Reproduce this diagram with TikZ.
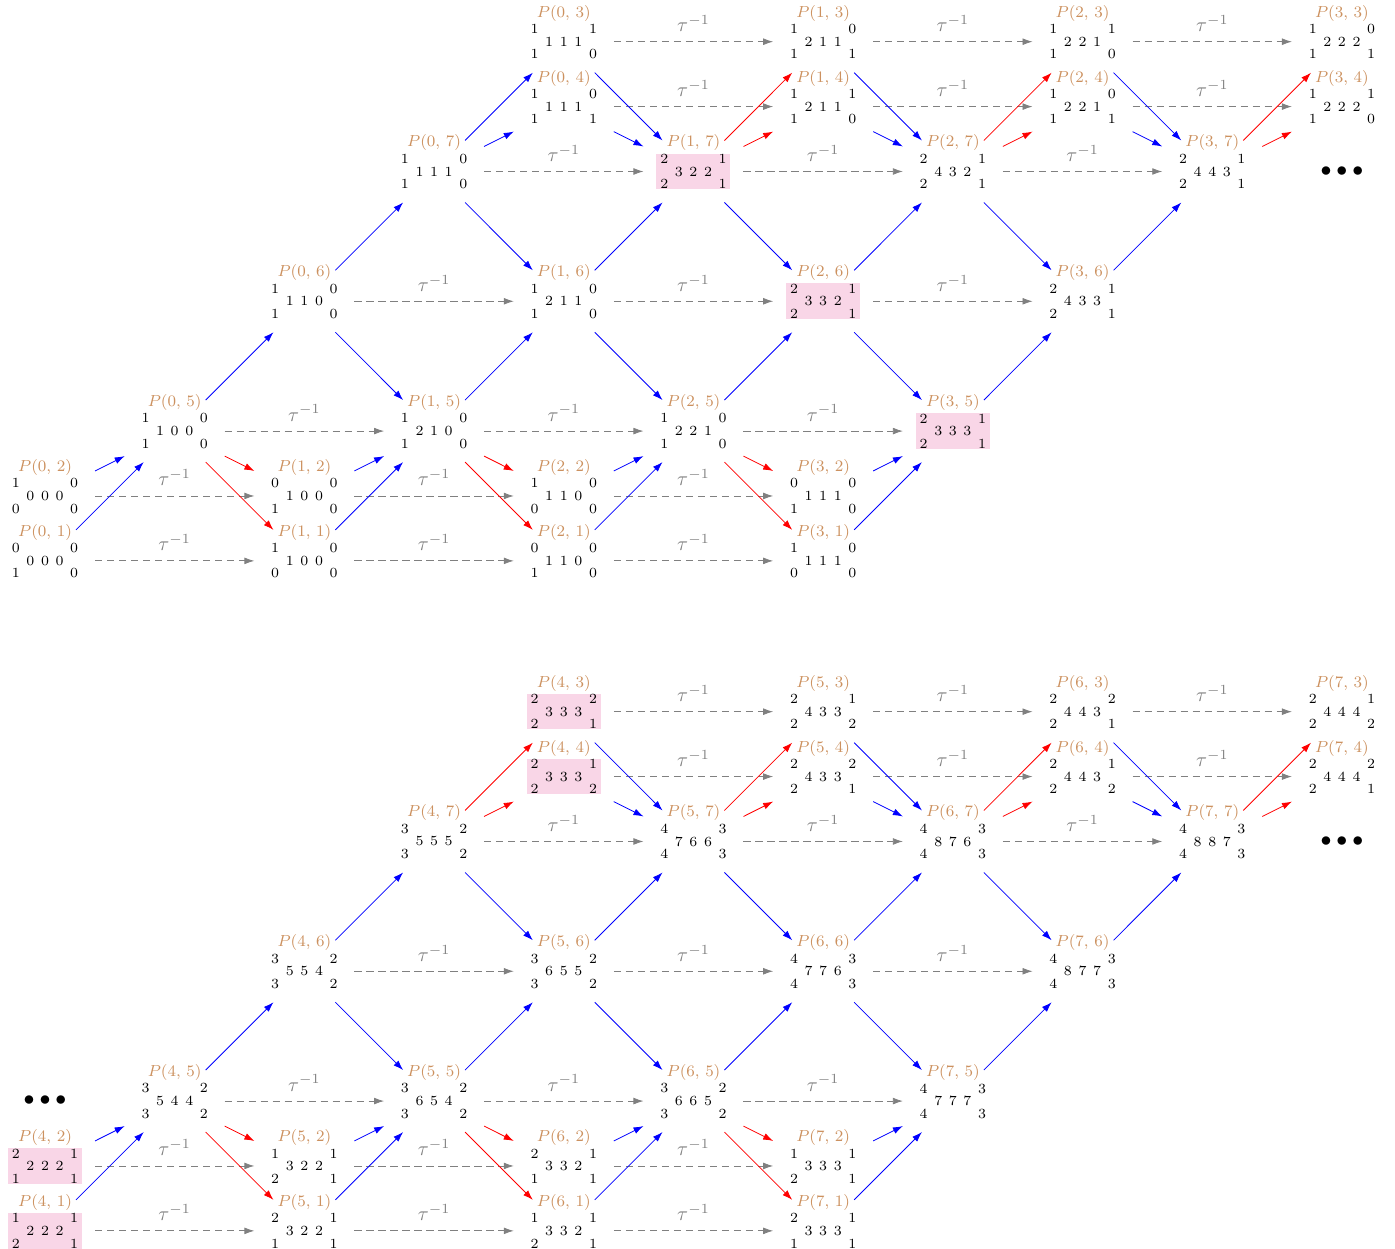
\documentclass[tikz,border=0pt]{standalone}
\usepackage{amsmath}
\usetikzlibrary{arrows.meta}
\definecolor{labelorange}{RGB}{204,145,95}
\definecolor{hlpink}{RGB}{249,214,231}

\newcommand\dg[1]{\hbox to 0pt{\hss#1\hss}}
\newcommand\middigs[3]{\dg{#1}\hskip7.3pt\dg{#2}\hskip7.3pt\dg{#3}}
\newcommand\digs[5]{\vbox{\baselineskip=6.3pt\lineskiplimit=-100pt
  \hbox to 29.2pt{\dg{#1}\hfil\dg{#2}}
  \hbox to 29.2pt{\hskip7.3pt\middigs#3\hfil}
  \hbox to 29.2pt{\dg{#4}\hfil\dg{#5}}}}
% #1 style, #2 i, #3 k, #4 position, #5 top left, #6 top right, #7 middle, #8 bottom left, #9 bottom right
\newcommand\pcell[9][]{%
  \node[dimbox,#1] (v#2#3) at (#4) {\digs{#5}{#6}{#7}{#8}{#9}};
  \node[cellbox, label={[plabel]north:$P(#2,\,#3)$}] (p#2#3) at (#4) {};
}

\tikzset{
  cellbox/.style={minimum width=50pt, minimum height=31pt, inner sep=0pt, outer sep=0pt},
  dimbox/.style={font=\scriptsize, inner sep=0pt, minimum width=37pt, minimum height=17.8pt},
  hlbox/.style={fill=hlpink},
  plabel/.style={font=\footnotesize, text=labelorange, inner sep=0pt, anchor=center, yshift=-1.25pt},
  bluemap/.style={blue, -{Latex[length=5pt, width=3.4pt]}},
  redmap/.style={red, -{Latex[length=5pt, width=3.4pt]}},
  taumap/.style={gray, dash pattern=on 3.6pt off 2.4pt, -{Latex[length=5pt, width=3.4pt]}},
  taulabel/.style={midway, anchor=base, yshift=5pt, inner sep=0pt, text=gray},
  moredots/.style={font=\fontsize{11}{13}\selectfont},
}

\begin{document}
\begin{tikzpicture}[x=64.85pt, y=-32.45pt]
  \useasboundingbox (-0.347,-0.6425) rectangle (10.409,18.602);

  % first four slices
  \pcell{0}{1}{0,8}{0}{0}{000}{1}{0}
  \pcell{0}{2}{0,7}{1}{0}{000}{0}{0}
  \pcell{0}{5}{1,6}{1}{0}{100}{1}{0}
  \pcell{0}{6}{2,4}{1}{0}{110}{1}{0}
  \pcell{0}{7}{3,2}{1}{0}{111}{1}{0}
  \pcell{0}{3}{4,0}{1}{1}{111}{1}{0}
  \pcell{0}{4}{4,1}{1}{0}{111}{1}{1}

  \pcell{1}{1}{2,8}{1}{0}{100}{0}{0}
  \pcell{1}{2}{2,7}{0}{0}{100}{1}{0}
  \pcell{1}{5}{3,6}{1}{0}{210}{1}{0}
  \pcell{1}{6}{4,4}{1}{0}{211}{1}{0}
  \pcell[hlbox]{1}{7}{5,2}{2}{1}{322}{2}{1}
  \pcell{1}{3}{6,0}{1}{0}{211}{1}{1}
  \pcell{1}{4}{6,1}{1}{1}{211}{1}{0}

  \pcell{2}{1}{4,8}{0}{0}{110}{1}{0}
  \pcell{2}{2}{4,7}{1}{0}{110}{0}{0}
  \pcell{2}{5}{5,6}{1}{0}{221}{1}{0}
  \pcell[hlbox]{2}{6}{6,4}{2}{1}{332}{2}{1}
  \pcell{2}{7}{7,2}{2}{1}{432}{2}{1}
  \pcell{2}{3}{8,0}{1}{1}{221}{1}{0}
  \pcell{2}{4}{8,1}{1}{0}{221}{1}{1}

  \pcell{3}{1}{6,8}{1}{0}{111}{0}{0}
  \pcell{3}{2}{6,7}{0}{0}{111}{1}{0}
  \pcell[hlbox]{3}{5}{7,6}{2}{1}{333}{2}{1}
  \pcell{3}{6}{8,4}{2}{1}{433}{2}{1}
  \pcell{3}{7}{9,2}{2}{1}{443}{2}{1}
  \pcell{3}{3}{10,0}{1}{0}{222}{1}{1}
  \pcell{3}{4}{10,1}{1}{1}{222}{1}{0}

  \node[moredots] (dotsA) at (10,2) {$\bullet\bullet\bullet$};

  % next four slices
  \begin{scope}[yshift=-335pt]
    \pcell[hlbox]{4}{1}{0,8}{1}{1}{222}{2}{1}
    \pcell[hlbox]{4}{2}{0,7}{2}{1}{222}{1}{1}
    \pcell{4}{5}{1,6}{3}{2}{544}{3}{2}
    \pcell{4}{6}{2,4}{3}{2}{554}{3}{2}
    \pcell{4}{7}{3,2}{3}{2}{555}{3}{2}
    \pcell[hlbox]{4}{3}{4,0}{2}{2}{333}{2}{1}
    \pcell[hlbox]{4}{4}{4,1}{2}{1}{333}{2}{2}

    \pcell{5}{1}{2,8}{2}{1}{322}{1}{1}
    \pcell{5}{2}{2,7}{1}{1}{322}{2}{1}
    \pcell{5}{5}{3,6}{3}{2}{654}{3}{2}
    \pcell{5}{6}{4,4}{3}{2}{655}{3}{2}
    \pcell{5}{7}{5,2}{4}{3}{766}{4}{3}
    \pcell{5}{3}{6,0}{2}{1}{433}{2}{2}
    \pcell{5}{4}{6,1}{2}{2}{433}{2}{1}

    \pcell{6}{1}{4,8}{1}{1}{332}{2}{1}
    \pcell{6}{2}{4,7}{2}{1}{332}{1}{1}
    \pcell{6}{5}{5,6}{3}{2}{665}{3}{2}
    \pcell{6}{6}{6,4}{4}{3}{776}{4}{3}
    \pcell{6}{7}{7,2}{4}{3}{876}{4}{3}
    \pcell{6}{3}{8,0}{2}{2}{443}{2}{1}
    \pcell{6}{4}{8,1}{2}{1}{443}{2}{2}

    \pcell{7}{1}{6,8}{2}{1}{333}{1}{1}
    \pcell{7}{2}{6,7}{1}{1}{333}{2}{1}
    \pcell{7}{5}{7,6}{4}{3}{777}{4}{3}
    \pcell{7}{6}{8,4}{4}{3}{877}{4}{3}
    \pcell{7}{7}{9,2}{4}{3}{887}{4}{3}
    \pcell{7}{3}{10,0}{2}{1}{444}{2}{2}
    \pcell{7}{4}{10,1}{2}{2}{444}{2}{1}

    \node[moredots] (dotsB) at (10,2) {$\bullet\bullet\bullet$};
    \node[moredots] (dotsC) at (0,6) {$\bullet\bullet\bullet$};
  \end{scope}

  % translates
  \foreach \i/\j in {0/1,1/2,2/3,4/5,5/6,6/7}
    \foreach \k in {1,...,7}
      \draw[taumap] (p\i\k) -- (p\j\k) node[taulabel] {$\tau^{-1}$};

  % maps inside a slice
  \foreach \i in {0,...,7} {
    \draw[bluemap] (p\i1) -- (p\i5);
    \draw[bluemap] (p\i2) -- (p\i5);
    \draw[bluemap] (p\i5) -- (p\i6);
    \draw[bluemap] (p\i6) -- (p\i7);
  }
  \foreach \i/\c in {0/bluemap,1/redmap,2/redmap,3/redmap,4/redmap,5/redmap,6/redmap,7/redmap} {
    \draw[\c] (p\i7) -- (p\i3);
    \draw[\c] (p\i7) -- (p\i4);
  }

  % maps between slices
  \foreach \i/\j in {0/1,1/2,2/3,4/5,5/6,6/7} {
    \draw[redmap] (p\i5) -- (p\j1);
    \draw[redmap] (p\i5) -- (p\j2);
    \draw[bluemap] (p\i6) -- (p\j5);
    \draw[bluemap] (p\i7) -- (p\j6);
    \draw[bluemap] (p\i3) -- (p\j7);
    \draw[bluemap] (p\i4) -- (p\j7);
  }
\end{tikzpicture}
\end{document}
